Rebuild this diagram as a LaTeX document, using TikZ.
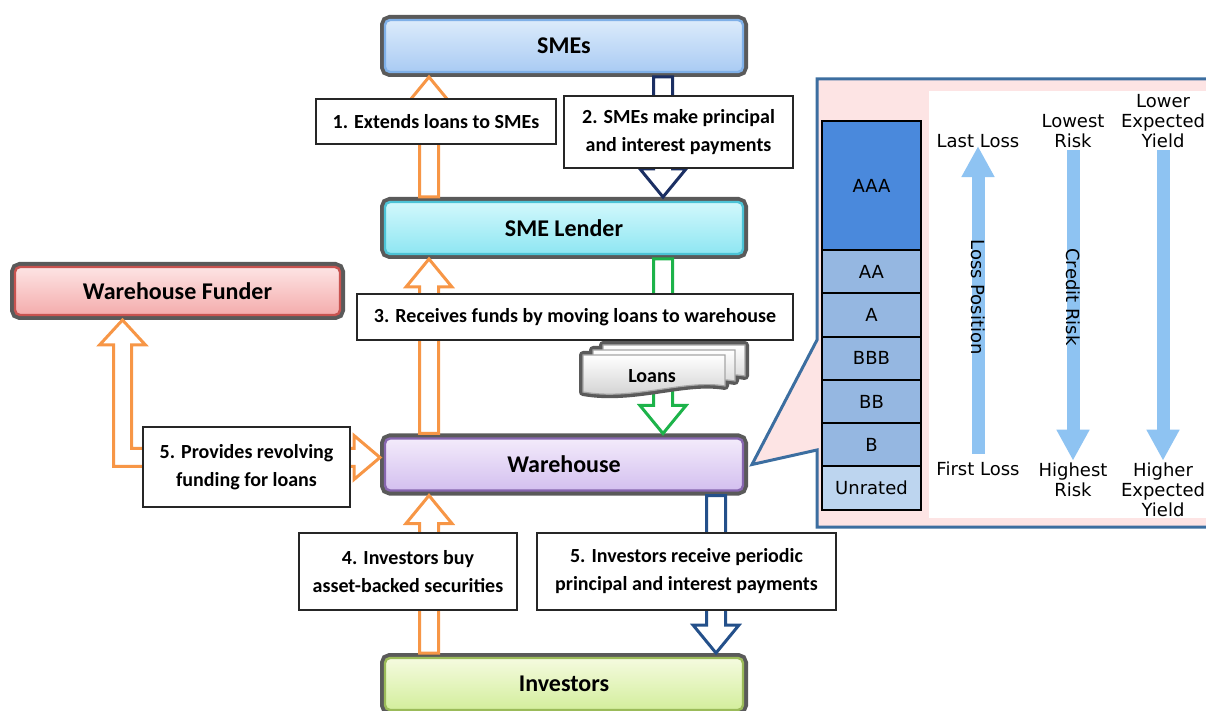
\documentclass[tikz,border=0pt]{standalone}
\usepackage{fontspec}
\setmainfont{Carlito}
\newfontfamily\panelfont{DejaVu Sans}
\usepackage{tikz}
\usetikzlibrary{calc}
\usetikzlibrary{positioning}
\usetikzlibrary{arrows.meta}

\definecolor{ringGray}{HTML}{5A5A5A}
\definecolor{smeTop}{HTML}{DCEBFB}
\definecolor{smeBot}{HTML}{A9CBF3}
\definecolor{smeEdge}{HTML}{7FB0E8}
\definecolor{lendTop}{HTML}{D2F8FC}
\definecolor{lendBot}{HTML}{8EE6F2}
\definecolor{lendEdge}{HTML}{4CC3D6}
\definecolor{fundTop}{HTML}{FDE4E4}
\definecolor{fundBot}{HTML}{F4ACAC}
\definecolor{fundEdge}{HTML}{C85350}
\definecolor{wareTop}{HTML}{F3EBFB}
\definecolor{wareBot}{HTML}{D3BFEF}
\definecolor{wareEdge}{HTML}{8766B0}
\definecolor{invTop}{HTML}{F5FBDF}
\definecolor{invBot}{HTML}{D3EE9C}
\definecolor{invEdge}{HTML}{9BBB59}
\definecolor{flowOrange}{HTML}{F79646}
\definecolor{flowNavy}{HTML}{1B2F63}
\definecolor{flowBlue}{HTML}{24508A}
\definecolor{flowGreen}{HTML}{1DB34A}
\definecolor{panelPink}{HTML}{FDE4E4}
\definecolor{panelEdge}{HTML}{3C6EA0}
\definecolor{aaaBlue}{HTML}{4A89DC}
\definecolor{midBlue}{HTML}{95B7E1}
\definecolor{lowBlue}{HTML}{BDD5EF}
\definecolor{tierBlue}{HTML}{8EC3F2}

\tikzset{ entity/.style = {rectangle, rounded corners=2.5pt, line width=1.2pt, outer sep=2.5pt, minimum width=179pt, minimum height=26pt, font=\bfseries\fontsize{12}{14}\selectfont, preaction={draw=ringGray, line width=5pt}} }
\tikzset{ lbl/.style = {rectangle, draw=black!85, fill=white, line width=0.7pt, align=center, inner sep=2pt, font=\bfseries\fontsize{10}{14}\selectfont} }
\tikzset{ orangeflow/.style = {draw=flowOrange, fill=white, line width=1.5pt} }
\tikzset{ navyflow/.style = {draw=flowNavy, fill=white, line width=1.5pt} }
\tikzset{ blueflow/.style = {draw=flowBlue, fill=white, line width=1.5pt} }
\tikzset{ greenflow/.style = {draw=flowGreen, fill=white, line width=1.5pt} }
\tikzset{ sheetring/.style = {draw=ringGray, line width=4pt, line join=round} }
\tikzset{ sheet/.style = {draw=gray!70, line width=0.6pt, top color=white, bottom color=gray!40} }
\tikzset{ tranche/.style = {rectangle, draw=black, line width=1pt, outer sep=0pt, minimum width=49.5pt, minimum height=21.65pt, font=\panelfont\fontsize{9}{10}\selectfont} }
\tikzset{ paneltext/.style = {align=center, inner sep=1pt, font=\panelfont\fontsize{9}{10}\selectfont} }
\tikzset{ tierarrow/.style = {draw=tierBlue, line width=6.5pt, -{Triangle[width=15.5pt,length=15.5pt]}} }

% hollow block arrow: style, tail, tip
\newcommand{\flowarrow}[3]{%
  \draw[#1] let \p1=(#2), \p2=(#3), \p3=($(#3)!14pt!(#2)$) in
    (\x1-4.75pt,\y1) -- (\x1-4.75pt,\y3) -- (\x1-11.5pt,\y3) -- (\x1,\y2)
    -- (\x1+11.5pt,\y3) -- (\x1+4.75pt,\y3) -- (\x1+4.75pt,\y1) -- cycle;}

\begin{document}
\begin{tikzpicture}[x=0.5pt, y=-0.5pt]
        \useasboundingbox (0,0) rectangle (1206,711);

        \node[entity, draw=smeEdge, top color=smeTop, bottom color=smeBot] (smes) at (564,46) {SMEs};
        \node[entity, draw=lendEdge, top color=lendTop, bottom color=lendBot] (lender) at (564,228) {SME Lender};
        \node[entity, draw=fundEdge, top color=fundTop, bottom color=fundBot, minimum width=162.5pt, minimum height=24pt] (funder) at (177.5,291) {Warehouse Funder};
        \node[entity, draw=wareEdge, top color=wareTop, bottom color=wareBot] (warehouse) at (564,464.5) {Warehouse};
        \node[entity, draw=invEdge, top color=invTop, bottom color=invBot] (investors) at (564,684) {Investors};

        \coordinate (colL) at (429,0);
        \coordinate (colR) at (663,0);
        \coordinate (colB) at (716,0);
        \flowarrow{orangeflow}{lender.north -| colL}{smes.south -| colL}
        \flowarrow{navyflow}{smes.south -| colR}{lender.north -| colR}
        \flowarrow{orangeflow}{warehouse.north -| colL}{lender.south -| colL}
        \flowarrow{greenflow}{lender.south -| colR}{warehouse.north -| colR}
        \flowarrow{orangeflow}{investors.north -| colL}{warehouse.south -| colL}
        \flowarrow{blueflow}{warehouse.south -| colB}{investors.north -| colB}
        \draw[orangeflow] let \p1=($(funder.south)+(-55,0)$), \p2=($(warehouse.west)+(0,-7)$) in
            (\x1,\y1) -- (\x1+11.5pt,\y1-12.5pt) -- (\x1+4.5pt,\y1-12.5pt) -- (\x1+4.5pt,\y2+4.5pt)
            -- (\x2-13pt,\y2+4.5pt) -- (\x2-13pt,\y2+11pt) -- (\x2,\y2) -- (\x2-13pt,\y2-11pt)
            -- (\x2-13pt,\y2-4.5pt) -- (\x1-4.5pt,\y2-4.5pt) -- (\x1-4.5pt,\y1-12.5pt)
            -- (\x1-11.5pt,\y1-12.5pt) -- cycle;

        % stack of loan documents
        \coordinate (loansc) at (654,375);
        \foreach \dx/\dy in {20/-10,10/-5,0/0}
            \draw[sheetring] ($(loansc)+(\dx-71,\dy-20)$) -- ($(loansc)+(\dx+71,\dy-20)$) -- ($(loansc)+(\dx+71,\dy+11)$)
                .. controls ($(loansc)+(\dx+30,\dy+4)$) and ($(loansc)+(\dx-20,\dy+26)$) .. ($(loansc)+(\dx-71,\dy+17)$) -- cycle;
        \foreach \dx/\dy in {20/-10,10/-5,0/0}
            \draw[sheet] ($(loansc)+(\dx-71,\dy-20)$) -- ($(loansc)+(\dx+71,\dy-20)$) -- ($(loansc)+(\dx+71,\dy+11)$)
                .. controls ($(loansc)+(\dx+30,\dy+4)$) and ($(loansc)+(\dx-20,\dy+26)$) .. ($(loansc)+(\dx-71,\dy+17)$) -- cycle;
        \node[font=\bfseries\fontsize{10}{12}\selectfont] (loans) at (652,376) {Loans};

        \node[lbl, minimum width=120pt, minimum height=22.5pt] (step1) at (436,121.5) {1. Extends loans to SMEs};
        \node[lbl, minimum width=114.5pt, minimum height=36pt] (step2) at (678.5,132) {2. SMEs make principal\\and interest payments};
        \node[lbl, minimum width=218pt, minimum height=23pt] (step3) at (575,317) {3. Receives funds by moving loans to warehouse};
        \node[lbl, minimum width=103.5pt, minimum height=40pt] (step5a) at (246.5,467) {5. Provides revolving\\funding for loans};
        \node[lbl, minimum width=109pt, minimum height=38.5pt] (step4) at (408,571.5) {4. Investors buy\\asset-backed securities};
        \node[lbl, minimum width=149.5pt, minimum height=38.5pt] (step5b) at (686.5,571.5) {5. Investors receive periodic\\principal and interest payments};

        % tranche panel
        \draw[draw=panelEdge, fill=panelPink, line width=1.5pt] (1215,79) -- (817,79) -- (817,340)
            -- ($(warehouse.east)+(4,0)$) -- (817,450) -- (817,527) -- (1215,527);
        \fill[white] (929,91) rectangle (1215,518);
        \node[tranche, fill=aaaBlue, minimum height=64.5pt] (aaa) at (871.5,185.5) {AAA};
        \node[tranche, fill=midBlue, below=0pt of aaa] (aa) {AA};
        \node[tranche, fill=midBlue, below=0pt of aa] (a) {A};
        \node[tranche, fill=midBlue, below=0pt of a] (bbb) {BBB};
        \node[tranche, fill=midBlue, below=0pt of bbb] (bb) {BB};
        \node[tranche, fill=midBlue, below=0pt of bb] (b) {B};
        \node[tranche, fill=lowBlue, below=0pt of b] (unrated) {Unrated};

        \node[paneltext] (lastloss) at (978,141) {Last Loss};
        \node[paneltext] (firstloss) at (978,469) {First Loss};
        \node[paneltext] (lowrisk) at (1073,131) {Lowest\\Risk};
        \node[paneltext] (highrisk) at (1073,480) {Highest\\Risk};
        \node[paneltext] (lowyield) at (1163,121) {Lower\\Expected\\Yield};
        \node[paneltext] (highyield) at (1163,490) {Higher\\Expected\\Yield};
        \draw[tierarrow, shorten <=3pt, shorten >=-2pt] (firstloss.north) -- (lastloss.south);
        \draw[tierarrow] (lowrisk.south) -- (highrisk.north);
        \draw[tierarrow] (lowyield.south) -- (highyield.north);
        \node[paneltext, rotate=-90] (losspos) at (978,297) {Loss Position};
        \node[paneltext, rotate=-90] (creditrisk) at (1073,297) {Credit Risk};
\end{tikzpicture}
\end{document}
